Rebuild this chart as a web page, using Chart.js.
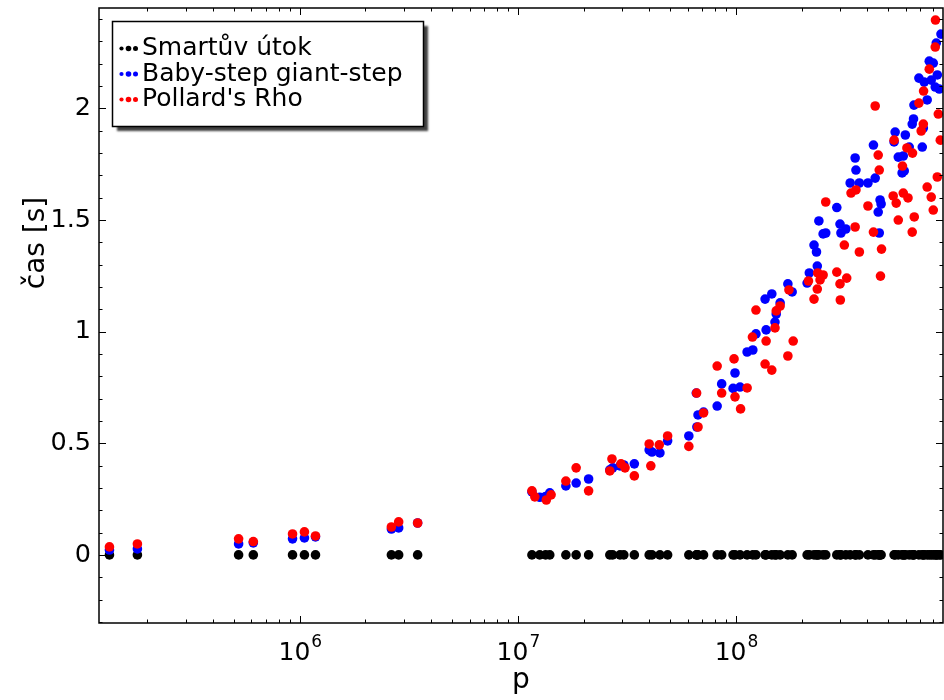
<!DOCTYPE html>
<html lang="cs">
<head>
  <meta charset="UTF-8">
  <title>čas vs p</title>
  <script src="https://cdn.jsdelivr.net/npm/chart.js"></script>
  <style>
    html, body { margin: 0; padding: 0; background: #fff; }
    #wrap { width: 944px; height: 700px; }
  </style>
</head>
<body>
<div id="wrap"><canvas id="chart" width="944" height="700"></canvas></div>
<script>
  const seriesNames = ['Smartův útok', 'Baby-step giant-step', "Pollard's Rho"];
  const seriesColors = ['#000000', '#0000ff', '#ff0000'];

  // p for Smart + Baby-step (same primes)
  const pValues = [
    1.34e5, 1.80e5, 5.24e5, 6.12e5, 9.26e5, 1.05e6, 1.18e6, 2.63e6, 2.84e6, 3.47e6,
    1.16e7, 1.26e7, 1.34e7, 1.40e7, 1.66e7, 1.85e7, 2.11e7, 2.64e7, 2.72e7, 2.94e7,
    3.06e7, 3.42e7, 4.00e7, 4.12e7, 4.48e7, 4.86e7, 6.08e7, 6.62e7, 6.70e7, 6.58e7,
    7.10e7, 8.20e7, 8.60e7, 9.70e7, 9.90e7, 1.044e8, 1.125e8, 1.195e8, 1.235e8, 1.36e8,
    1.375e8, 1.46e8, 1.51e8, 1.53e8, 1.594e8, 1.73e8, 1.81e8, 2.12e8, 2.17e8, 2.28e8,
    2.34e8, 2.36e8, 2.40e8, 2.51e8, 2.58e8, 2.90e8, 3.00e8, 3.03e8, 3.19e8, 3.34e8,
    3.52e8, 3.55e8, 3.68e8, 4.03e8, 4.27e8, 4.35e8, 4.49e8, 4.54e8, 4.58e8, 4.63e8,
    5.31e8, 5.37e8, 5.55e8, 5.78e8, 5.85e8, 5.91e8, 5.98e8, 6.23e8, 6.43e8, 6.52e8,
    6.55e8, 6.90e8, 7.15e8, 7.23e8, 7.30e8, 7.53e8, 7.70e8, 7.86e8, 8.03e8, 8.20e8,
    8.29e8, 8.38e8, 8.56e8, 8.71e8
  ];
  const tSmart = [
    0, 0, 0, 0, 0, 0, 0, 0, 0, 0,
    0, 0, 0, 0, 0, 0, 0, 0, 0, 0,
    0, 0, 0, 0, 0, 0, 0, 0, 0, 0,
    0, 0, 0, 0, 0, 0, 0, 0, 0, 0,
    0, 0, 0, 0, 0, 0, 0, 0, 0, 0,
    0, 0, 0, 0, 0, 0, 0, 0, 0, 0,
    0, 0, 0, 0, 0, 0, 0, 0, 0, 0,
    0, 0, 0, 0, 0, 0, 0, 0, 0, 0,
    0, 0, 0, 0, 0, 0, 0, 0, 0, 0,
    0, 0, 0, 0
  ];
  const tBaby = [
    0.022, 0.027, 0.049, 0.054, 0.072, 0.076, 0.081, 0.116, 0.121, 0.143,
    0.282, 0.258, 0.262, 0.278, 0.309, 0.322, 0.340, 0.381, 0.390, 0.399,
    0.403, 0.408, 0.470, 0.461, 0.457, 0.511, 0.533, 0.573, 0.627, 0.725,
    0.640, 0.667, 0.766, 0.746, 0.815, 0.752, 0.909, 0.918, 0.990, 1.146,
    1.008, 1.169, 1.043, 1.079, 1.129, 1.214, 1.178, 1.218, 1.263, 1.388,
    1.357, 1.294, 1.496, 1.438, 1.442, 1.556, 1.482, 1.442, 1.460, 1.666,
    1.778, 1.724, 1.666, 1.666, 1.836, 1.688, 1.536, 1.442, 1.590, 1.572,
    1.850, 1.894, 1.782, 1.711, 1.787, 1.720, 1.881, 1.827, 1.930, 1.953,
    2.015, 2.136, 1.827, 1.912, 2.118, 2.038, 2.212, 2.127, 2.203, 2.096,
    2.293, 2.150, 2.087, 2.333
  ];

  const pRho = [
    1.34e5, 1.80e5, 5.24e5, 6.12e5, 9.26e5, 1.05e6, 1.18e6, 2.63e6, 2.84e6, 3.47e6,
    1.16e7, 1.196e7, 1.35e7, 1.42e7, 1.66e7, 1.85e7, 2.11e7, 2.64e7, 2.70e7, 2.97e7,
    3.10e7, 3.42e7, 4.00e7, 4.07e7, 4.45e7, 4.86e7, 6.08e7, 6.60e7, 6.70e7, 7.10e7,
    8.20e7, 8.60e7, 9.80e7, 9.90e7, 1.05e8, 1.125e8, 1.19e8, 1.235e8, 1.36e8, 1.375e8,
    1.46e8, 1.51e8, 1.53e8, 1.594e8, 1.73e8, 1.75e8, 1.83e8, 2.15e8, 2.28e8, 2.36e8,
    2.37e8, 2.43e8, 2.51e8, 2.58e8, 2.90e8, 3.00e8, 3.01e8, 3.14e8, 3.22e8, 3.37e8,
    3.52e8, 3.55e8, 3.68e8, 4.03e8, 4.27e8, 4.35e8, 4.49e8, 4.54e8, 4.60e8, 4.65e8,
    5.26e8, 5.31e8, 5.43e8, 5.55e8, 5.80e8, 5.85e8, 6.08e8, 6.15e8, 6.43e8, 6.45e8,
    6.57e8, 6.90e8, 7.07e8, 7.23e8, 7.25e8, 7.53e8, 7.70e8, 7.86e8, 8.03e8, 8.20e8,
    8.22e8, 8.38e8, 8.47e8, 8.65e8
  ];
  const tRho = [
    0.036, 0.049, 0.072, 0.060, 0.094, 0.103, 0.085, 0.125, 0.148, 0.143,
    0.287, 0.260, 0.246, 0.269, 0.331, 0.390, 0.287, 0.376, 0.430, 0.408,
    0.390, 0.354, 0.497, 0.399, 0.493, 0.533, 0.486, 0.725, 0.573, 0.636,
    0.846, 0.725, 0.878, 0.708, 0.654, 0.748, 0.976, 1.097, 0.855, 0.958,
    0.828, 1.017, 1.093, 1.115, 0.891, 1.187, 0.958, 1.227, 1.146, 1.191,
    1.263, 1.232, 1.254, 1.581, 1.267, 1.214, 1.142, 1.388, 1.240, 1.621,
    1.469, 1.635, 1.357, 1.563, 1.446, 2.011, 1.791, 1.724, 1.249, 1.370,
    1.608, 1.858, 1.576, 1.500, 1.742, 1.621, 1.823, 1.599, 1.446, 1.800,
    1.514, 2.024, 1.899, 1.930, 2.078, 1.648, 2.176, 1.603, 1.545, 2.275,
    2.396, 1.693, 1.975, 1.858
  ];

  const xTicks = [1e6, 1e7, 1e8];
  const yTicks = [0, 0.5, 1, 1.5, 2];
  const xExp = ['6', '7', '8'];

  const FONT = '"DejaVu Sans", sans-serif';

  const toPoints = (xs, ys) => xs.map((x, i) => ({ x: x, y: ys[i] }));

  // frame, inward ticks on all sides, x tick labels, y title, legend box
  const decorPlugin = {
    id: 'decor',
    afterDraw(chart) {
      const ctx = chart.ctx;
      const { left, right, top, bottom } = chart.chartArea;
      const xs = chart.scales.x, ys = chart.scales.y;
      ctx.save();

      // ticks
      ctx.strokeStyle = '#000';
      ctx.lineWidth = 1;
      ctx.beginPath();
      for (let e = 5; e <= 8; e++) {
        for (let m = 1; m <= 9; m++) {
          const v = m * Math.pow(10, e);
          if (v < xs.min || v > xs.max) continue;
          const px = Math.round(xs.getPixelForValue(v)) + 0.5;
          const len = m === 1 ? 7 : 3.5;
          ctx.moveTo(px, bottom); ctx.lineTo(px, bottom - len);
          ctx.moveTo(px, top); ctx.lineTo(px, top + len);
        }
      }
      for (let k = -3; k <= 24; k++) {
        const py = Math.round(ys.getPixelForValue(k / 10)) + 0.5;
        const len = k % 5 === 0 ? 7 : 3.5;
        ctx.moveTo(left, py); ctx.lineTo(left + len, py);
        ctx.moveTo(right, py); ctx.lineTo(right - len, py);
      }
      ctx.stroke();

      // frame
      ctx.lineWidth = 1.5;
      ctx.strokeRect(left, top, right - left, bottom - top);

      // x tick labels 10^n
      ctx.fillStyle = '#000';
      ctx.textBaseline = 'alphabetic';
      ctx.textAlign = 'left';
      xTicks.forEach((v, i) => {
        const px = xs.getPixelForValue(v);
        ctx.font = '25px ' + FONT;
        const w1 = ctx.measureText('10').width;
        ctx.font = '17px ' + FONT;
        const w2 = ctx.measureText(xExp[i]).width;
        const x0 = px - (w1 + w2) / 2;
        ctx.font = '25px ' + FONT;
        ctx.fillText('10', x0, bottom + 37);
        ctx.font = '17px ' + FONT;
        ctx.fillText(xExp[i], x0 + w1 + 1, bottom + 24);
      });

      // y axis title
      ctx.save();
      ctx.translate(37, 243);
      ctx.rotate(-Math.PI / 2);
      ctx.textAlign = 'center';
      ctx.textBaseline = 'middle';
      ctx.font = '28px ' + FONT;
      ctx.fillText('čas [s]', 0, 0);
      ctx.restore();

      // legend
      const bx = 112.5, by = 21.5, bw = 311, bh = 105;
      ctx.save();
      ctx.shadowColor = 'rgba(0,0,0,0.75)';
      ctx.shadowOffsetX = 4;
      ctx.shadowOffsetY = 4;
      ctx.shadowBlur = 2;
      ctx.fillStyle = '#fff';
      ctx.fillRect(bx, by, bw, bh);
      ctx.restore();
      ctx.lineWidth = 1.5;
      ctx.strokeStyle = '#000';
      ctx.strokeRect(bx, by, bw, bh);

      const rowY = [48.5, 74, 99.5];
      const dotX = [121.5, 128.5, 135.5];
      const dotR = [2.1, 2.8, 2.5];
      ctx.font = '25px ' + FONT;
      ctx.textAlign = 'left';
      ctx.textBaseline = 'alphabetic';
      seriesNames.forEach((name, i) => {
        ctx.fillStyle = seriesColors[i];
        dotX.forEach((dx, j) => {
          ctx.beginPath();
          ctx.arc(dx, rowY[i], dotR[j], 0, Math.PI * 2);
          ctx.fill();
        });
        ctx.fillStyle = '#000';
        ctx.fillText(name, 142, rowY[i] + 6.5);
      });

      ctx.restore();
    }
  };

  new Chart(document.getElementById('chart'), {
    type: 'scatter',
    data: {
      datasets: [
        { label: seriesNames[0], data: toPoints(pValues, tSmart), backgroundColor: seriesColors[0], order: 3 },
        { label: seriesNames[1], data: toPoints(pValues, tBaby), backgroundColor: seriesColors[1], order: 2 },
        { label: seriesNames[2], data: toPoints(pRho, tRho), backgroundColor: seriesColors[2], order: 1 }
      ]
    },
    options: {
      responsive: false,
      animation: false,
      layout: { autoPadding: false, padding: { top: 8, right: 1, left: 0, bottom: 0 } },
      elements: { point: { radius: 4.8, hoverRadius: 4.8, borderWidth: 0 } },
      plugins: { legend: { display: false }, tooltip: { enabled: false } },
      scales: {
        x: {
          type: 'logarithmic',
          min: 1.2e5,
          max: 8.9e8,
          grid: { display: false },
          border: { display: false },
          ticks: { display: false },
          afterBuildTicks: s => { s.ticks = xTicks.map(v => ({ value: v })); },
          afterFit: s => { s.height = 77; s.paddingLeft = 0; s.paddingRight = 0; },
          title: {
            display: true, text: 'p', color: '#000',
            font: { family: FONT, size: 28 },
            padding: { top: 0, bottom: 2 }
          }
        },
        y: {
          min: -0.305,
          max: 2.45,
          grid: { display: false },
          border: { display: false },
          afterBuildTicks: s => { s.ticks = yTicks.map(v => ({ value: v })); },
          afterFit: s => { s.width = 99; s.paddingTop = 0; s.paddingBottom = 0; },
          ticks: {
            color: '#000',
            padding: 0,
            font: { family: FONT, size: 25.5 },
            callback: v => String(v)
          }
        }
      }
    },
    plugins: [decorPlugin]
  });
</script>
</body>
</html>
